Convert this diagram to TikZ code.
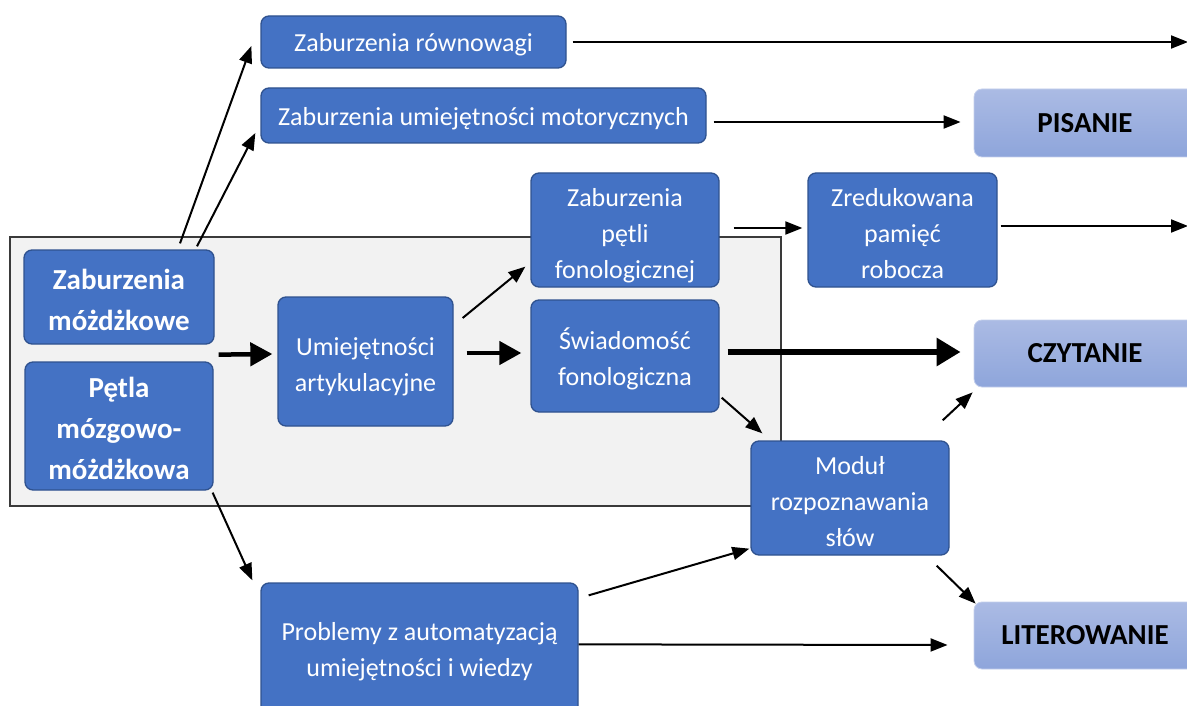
\documentclass[tikz,border=0pt]{standalone}
\usepackage{fontspec}
\setmainfont{Carlito}
\usetikzlibrary{arrows.meta,calc}
\definecolor{boxblue}{HTML}{4472C4}
\definecolor{boxedge}{HTML}{2F528F}
\definecolor{panelfill}{HTML}{F2F2F2}
\definecolor{paneledge}{HTML}{3A3A3A}
\definecolor{outtop}{HTML}{ABBBE4}
\definecolor{outbot}{HTML}{8EA5DB}
% struts that fix the height of the first line and the depth of the last line
\newcommand{\lineup}[1]{\rule{0pt}{#1}}
\newcommand{\linedown}[1]{\rule[-#1]{0pt}{#1}}
\begin{document}
\begin{tikzpicture}[x=1pt,y=-1pt,
  box/.style={draw=boxedge, line width=1.3pt, fill=boxblue, rounded corners=8pt,
    text=white, align=center, inner sep=0pt, font=\fontsize{26}{36}\selectfont},
  boldbox/.style={box, font=\fontsize{29}{41}\selectfont\bfseries},
  outbox/.style={draw=outtop!70!white, line width=0.8pt, top color=outtop, bottom color=outbot,
    rounded corners=8pt, text=black, inner sep=0pt, font=\fontsize{29}{36}\selectfont\bfseries},
  arr/.style={-{Triangle[length=17pt,width=13pt]}, line width=2pt},
  thickarr/.style={-{Triangle[length=22pt,width=23pt]}, line width=4.5pt},
  heavyarr/.style={-{Triangle[length=24pt,width=27pt]}, line width=6pt}]
\useasboundingbox (0,0) rectangle (1187,706);

% grey panel behind the cerebellar loop
\node[draw=paneledge, line width=1.3pt, fill=panelfill, minimum width=771pt,
  minimum height=269pt, inner sep=0pt] (panel) at (395.5,371.5) {};

% process boxes
\node[box, minimum width=305pt, minimum height=52pt] (rown) at (413.5,42)
  {\lineup{26pt}Zaburzenia równowagi\linedown{6.5pt}};
\node[box, minimum width=445pt, minimum height=55pt] (motor) at (483.5,115.5)
  {\lineup{26pt}Zaburzenia umiejętności motorycznych\linedown{6.5pt}};
\node[box, minimum width=188pt, minimum height=114pt] (petli) at (625,230)
  {\lineup{31pt}Zaburzenia\\pętli\\fonologicznej\linedown{6.5pt}};
\node[box, minimum width=189pt, minimum height=114pt] (pamiec) at (902.5,230)
  {\lineup{31pt}Zredukowana\\pamięć\\robocza\linedown{6.5pt}};
\node[boldbox, minimum width=190pt, minimum height=94pt] (mozdz) at (119,297)
  {\lineup{32pt}Zaburzenia\\móżdżkowe\linedown{7pt}};
\node[boldbox, minimum width=188pt, minimum height=128pt] (petla) at (119,426)
  {\lineup{32pt}Pętla\\mózgowo-\\móżdżkowa\linedown{7pt}};
\node[box, minimum width=175pt, minimum height=129pt] (artyk) at (365.5,361.5)
  {\lineup{30pt}Umiejętności\\artykulacyjne\linedown{6.5pt}};
\node[box, minimum width=188pt, minimum height=112pt] (swiad) at (625,356)
  {\lineup{30pt}Świadomość\\fonologiczna\linedown{6.5pt}};
\node[box, minimum width=198pt, minimum height=114pt] (modul) at (850,498)
  {\lineup{31pt}Moduł\\rozpoznawania\\słów\linedown{6.5pt}};
\node[box, minimum width=317pt, minimum height=132pt] (probl) at (419.5,649)
  {\lineup{25pt}Problemy z automatyzacją\\umiejętności i wiedzy\linedown{6.5pt}};

% outcome boxes
\node[outbox, minimum width=222pt, minimum height=68pt] (pis) at (1085,123) {PISANIE};
\node[outbox, minimum width=222pt, minimum height=67pt] (czyt) at (1085,353.5) {CZYTANIE};
\node[outbox, minimum width=222pt, minimum height=67pt] (liter) at (1085,635.5) {LITEROWANIE};

% free ends at the right margin
\coordinate (outA) at (1188,42);
\coordinate (outB) at (1188,226);

% connectors
\draw[arr] ($(mozdz.north)+(61,-6)$) -- ($(rown.west)+(-9,4)$);
\draw[arr] ($(mozdz.north)+(78,-3)$) -- ($(motor.west)+(-5,17.5)$);
\draw[arr] ($(rown.east)+(6,0)$) -- (outA);
\draw[arr] ($(motor.east)+(7,6.5)$) -- ($(pis.west)+(-13,-1)$);
\draw[arr] ($(petli.east)+(14,-2)$) -- ($(pamiec.west)+(-5,-2)$);
\draw[arr] ($(pamiec.east)+(3,-4)$) -- (outB);
\draw[thickarr] ($(mozdz.south east)+(4,10)$) -- ($(artyk.west)+(-5,-7.5)$);
\draw[thickarr] ($(artyk.east)+(13,-8.5)$) -- ($(swiad.west)+(-9,-3)$);
\draw[arr] ($(artyk.east)+(9,-43.5)$) -- ($(petli.south west)+(-5,-21)$);
\draw[heavyarr] ($(swiad.east)+(8,-4)$) -- ($(czyt.west)+(-13,-1.5)$);
\draw[arr] ($(swiad.south east)+(2,-15)$) -- ($(modul.north west)+(12,-7)$);
\draw[arr] ($(modul.north east)+(-7,-20)$) -- ($(czyt.south west)+(-1,5)$);
\draw[arr] ($(modul.south east)+(-13,10)$) -- ($(liter.north west)+(2,2)$);
\draw[arr] ($(petla.south east)+(-1,2)$) -- ($(probl.north west)+(-8,-2)$);
\draw[arr] ($(probl.north east)+(10,13)$) -- ($(modul.south west)+(-1,-7)$);
\draw[arr] ($(probl.north east)+(0,62)$) -- ($(liter.west)+(-26,9.5)$);
\end{tikzpicture}
\end{document}
